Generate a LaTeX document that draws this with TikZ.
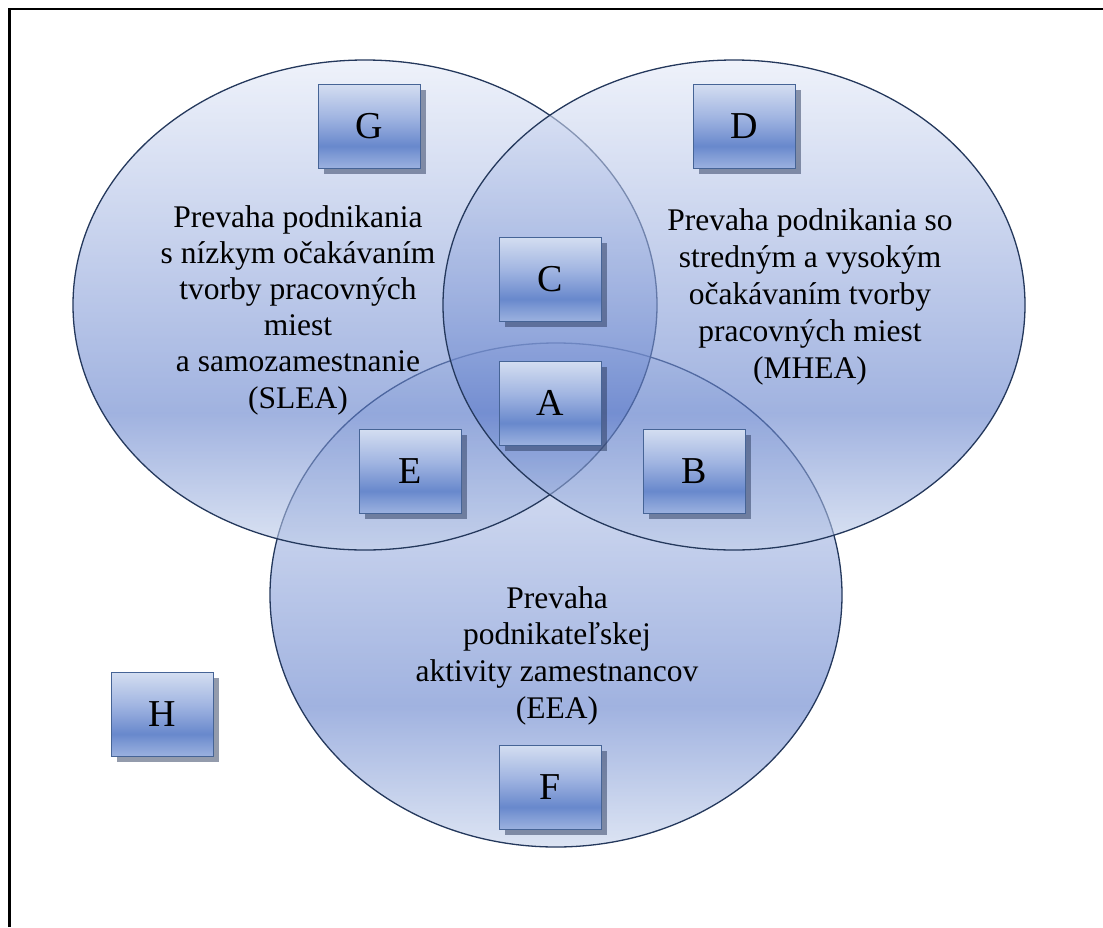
\documentclass[tikz,border=0pt]{standalone}
\usepackage{fontspec}
\setmainfont{Liberation Serif}
\usetikzlibrary{shadows}

% ellipse colours
\definecolor{elltop}{RGB}{227,233,247}
\definecolor{elldark}{RGB}{97,127,203}
\definecolor{ellbot}{RGB}{197,210,235}
\definecolor{ellline}{RGB}{36,56,92}
% box colours
\definecolor{bxtop}{RGB}{212,222,241}
\definecolor{bxmid}{RGB}{160,180,225}
\definecolor{bxband}{RGB}{104,136,204}
\definecolor{bxlow}{RGB}{125,153,212}
\definecolor{bxbot}{RGB}{155,177,223}
\definecolor{bxedge}{RGB}{70,100,150}
\definecolor{shadowc}{RGB}{40,55,90}

% in both shadings the path box is mapped onto 25bp..75bp
\pgfdeclareverticalshading{boxshade}{100bp}{%
  color(0bp)=(bxbot); color(25bp)=(bxbot); color(33bp)=(bxlow);
  color(38bp)=(bxband); color(55bp)=(bxmid); color(75bp)=(bxtop);
  color(100bp)=(bxtop)}
\pgfdeclareverticalshading{ellshade}{100bp}{%
  color(0bp)=(ellbot); color(25bp)=(ellbot); color(39bp)=(elldark);
  color(75bp)=(elltop); color(100bp)=(elltop)}

\begin{document}
\begin{tikzpicture}[x=1pt,y=-1pt,
  venn/.style={draw=ellline, line width=1.3pt, shade, shading=ellshade,
    fill opacity=0.6},
  letterbox/.style={rectangle, draw=bxedge, line width=0.9pt, shade,
    shading=boxshade, minimum width=102pt, minimum height=84pt,
    inner sep=0pt, font=\fontsize{38}{38}\selectfont,
    drop shadow={shadow xshift=6pt, shadow yshift=-6pt,
      fill=shadowc, opacity=0.5}},
  lbl/.style={font=\fontsize{31.5}{36}\selectfont, anchor=base,
    inner sep=0pt}]

\useasboundingbox (0,0) rectangle (1103,927);

% frame (top and left edges only)
\draw[line width=2.5pt] (9.5,927) -- (9.5,9) -- (1103,9);

% the three sets
\path[venn] (556,595) ellipse [x radius=286pt, y radius=252pt];
\path[venn] (365,305) ellipse [x radius=292pt, y radius=245pt];
\path[venn] (734,305) ellipse [x radius=291pt, y radius=245pt];

% set descriptions
\foreach \t [count=\i] in {Prevaha podnikania, s nízkym očakávaním,
    tvorby pracovných, miest, a samozamestnanie, (SLEA)}
  \node[lbl] (slea\i) at (298,{227+36.2*(\i-1)}) {\t};
\foreach \t [count=\i] in {Prevaha podnikania so, stredným a vysokým,
    očakávaním tvorby, pracovných miest, (MHEA)}
  \node[lbl] (mhea\i) at (810,{230+37*(\i-1)}) {\t};
\foreach \t [count=\i] in {Prevaha, podnikateľskej,
    aktivity zamestnancov, (EEA)}
  \node[lbl] (eea\i) at (557,{608+36.7*(\i-1)}) {\t};

% region markers
\node[letterbox] (G) at (369,126) {G};
\node[letterbox] (D) at (744,126) {D};
\node[letterbox] (C) at (550,279) {C};
\node[letterbox] (A) at (550,403) {A};
\node[letterbox] (E) at (410,471) {E};
\node[letterbox] (B) at (694,471) {B};
\node[letterbox] (H) at (162,714) {H};
\node[letterbox] (F) at (550,787) {F};
\end{tikzpicture}
\end{document}
